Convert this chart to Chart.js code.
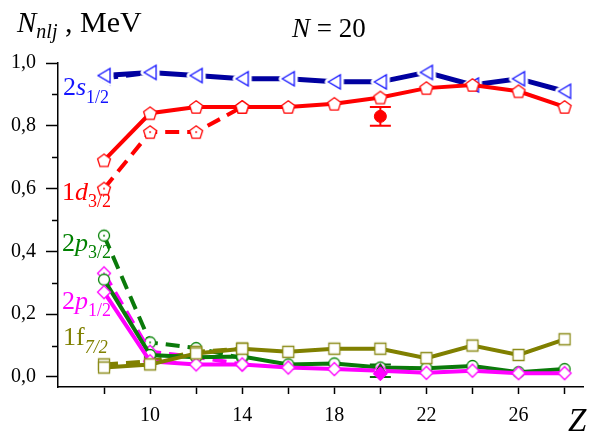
<!DOCTYPE html>
<html>
<head>
<meta charset="utf-8">
<script src="https://cdn.jsdelivr.net/npm/chart.js@4.4.1/dist/chart.umd.min.js"></script>
<style>
  html, body { margin: 0; padding: 0; background: #fff; }
</style>
</head>
<body>
<canvas id="occupancy" width="598" height="434"></canvas>
<script>
const zValues = [8, 10, 12, 14, 16, 18, 20, 22, 24, 26, 28];
const zShort = [8, 10, 12, 14];
const zTicks = [8, 10, 12, 14, 16, 18, 20, 22, 24, 26, 28];
const zLabels = [10, 14, 18, 22, 26];
const yTicks = [0, 0.2, 0.4, 0.6, 0.8, 1.0];
const yMinor = [0.1, 0.3, 0.5, 0.7, 0.9];

// solid curves
const s12 = [0.96, 0.97, 0.96, 0.95, 0.95, 0.94, 0.94, 0.97, 0.93, 0.95, 0.91];
const d32 = [0.69, 0.84, 0.86, 0.86, 0.86, 0.87, 0.89, 0.92, 0.93, 0.91, 0.86];
const p32 = [0.31, 0.07, 0.063, 0.065, 0.04, 0.043, 0.03, 0.028, 0.035, 0.015, 0.025];
const p12 = [0.27, 0.05, 0.04, 0.04, 0.03, 0.025, 0.02, 0.013, 0.02, 0.012, 0.012];
const f72 = [0.03, 0.04, 0.075, 0.09, 0.08, 0.09, 0.09, 0.06, 0.10, 0.07, 0.12];

// dashed curves (light nuclei, join the solid ones by Z = 14)
const s12Alt = [0.953, 0.97];
const d32Alt = [0.60, 0.78, 0.78, 0.86];
const p32Alt = [0.45, 0.11, 0.092, 0.06];
const p12Alt = [0.33, 0.08, 0.064, 0.04];
const f72Alt = [0.04, 0.05, 0.08, 0.09];

// experiment at Z = 20
const expZ = 20;
const expD32 = [0.83];
const expD32Err = [0.03];
const expP32 = [0.02];
const expP32Err = [0.02];
const expP12 = [0.01];

const BLUE = '#1414ff', NAVY = '#0000a0', RED = '#ff0000', GREEN = '#008000',
      MAGENTA = '#ff00ff', OLIVE = '#808000';
const SERIF = "'Liberation Serif', 'Times New Roman', serif";

function pts(xs, ys) {
  return ys.map((y, i) => ({ x: xs[i], y: y }));
}

// open markers drawn once into small canvases; halo leaves a gap in the line
function marker(shape, color, dot, halo) {
  const c = document.createElement('canvas');
  c.width = 26; c.height = 26;
  const g = c.getContext('2d');
  g.translate(13, 13);
  g.beginPath();
  if (shape === 'tri') {
    g.moveTo(-6, 0); g.lineTo(6, -7); g.lineTo(6, 7); g.closePath();
  } else if (shape === 'penta') {
    for (let k = 0; k < 5; k++) {
      const a = -Math.PI / 2 + k * 2 * Math.PI / 5;
      const px = Math.cos(a) * 6.8, py = Math.sin(a) * 6.8 + 0.6;
      k ? g.lineTo(px, py) : g.moveTo(px, py);
    }
    g.closePath();
  } else if (shape === 'circle') {
    g.arc(0, 0, 5.5, 0, Math.PI * 2);
  } else if (shape === 'diamond') {
    g.moveTo(0, -6.5); g.lineTo(6.5, 0); g.lineTo(0, 6.5); g.lineTo(-6.5, 0); g.closePath();
  } else {
    g.rect(-5.5, -5.5, 11, 11);
  }
  if (halo) {
    g.lineWidth = 7;
    g.lineJoin = 'round';
    g.strokeStyle = '#fff';
    g.stroke();
  }
  g.fillStyle = '#fff';
  g.fill();
  g.lineWidth = 1.3;
  g.lineJoin = 'miter';
  g.strokeStyle = color;
  g.stroke();
  if (dot) {
    g.beginPath();
    g.arc(0, 0, 0.9, 0, Math.PI * 2);
    g.fillStyle = color;
    g.fill();
  }
  return c;
}

function curve(xs, ys, lineColor, style, dashed, width) {
  return {
    data: pts(xs, ys),
    borderColor: lineColor,
    borderWidth: width || 4,
    borderDash: dashed ? [14, 8] : [],
    pointStyle: style,
    pointRadius: 7,
    pointHoverRadius: 7,
    fill: false,
    tension: 0
  };
}

function expPoint(ys, errs, color, style, radius) {
  return {
    data: pts([expZ], ys),
    yErr: errs,
    showLine: false,
    pointStyle: style,
    pointRadius: radius,
    pointBackgroundColor: color,
    pointBorderColor: color,
    borderColor: color
  };
}

const datasets = [
  expPoint(expP12, [0], MAGENTA, 'rectRot', 7),
  expPoint(expP32, expP32Err, '#0a6a0a', 'triangle', 7),
  expPoint(expD32, expD32Err, RED, 'circle', 6),
  curve(zValues, d32, RED, marker('penta', RED, false), false),
  curve(zValues, s12, NAVY, marker('tri', BLUE, false, true), false, 5),
  curve(zValues, f72, OLIVE, marker('rect', '#8c8c1a', false), false),
  curve(zValues, p12, MAGENTA, marker('diamond', MAGENTA, false), false),
  curve(zValues, p32, '#0a7a0a', marker('circle', GREEN, false), false),
  curve(zShort.slice(0, 2), s12Alt, NAVY, marker('tri', BLUE, true, true), true, 5),
  curve(zShort, d32Alt, RED, marker('penta', RED, true), true),
  curve(zShort, f72Alt, OLIVE, marker('rect', '#8c8c1a', true), true),
  curve(zShort, p12Alt, MAGENTA, marker('diamond', MAGENTA, true), true),
  curve(zShort, p32Alt, '#0a7a0a', marker('circle', GREEN, true), true)
];

// vertical error bars with caps
const errorBars = {
  id: 'errorBars',
  beforeDatasetsDraw(chart) {
    const { ctx, scales: { x, y } } = chart;
    chart.data.datasets.forEach(ds => {
      if (!ds.yErr) return;
      ds.data.forEach((p, i) => {
        const e = ds.yErr[i];
        if (!e) return;
        const px = x.getPixelForValue(p.x);
        const top = y.getPixelForValue(p.y + e), bot = y.getPixelForValue(p.y - e);
        ctx.save();
        ctx.strokeStyle = ds.borderColor;
        ctx.lineWidth = 2;
        ctx.beginPath();
        ctx.moveTo(px, top); ctx.lineTo(px, bot);
        ctx.moveTo(px - 10.5, top); ctx.lineTo(px + 10.5, top);
        ctx.moveTo(px - 10.5, bot); ctx.lineTo(px + 10.5, bot);
        ctx.stroke();
        ctx.restore();
      });
    });
  }
};

function rich(ctx, x, y, parts) {
  parts.forEach(p => {
    ctx.font = (p.italic ? 'italic ' : '') + p.size + 'px ' + SERIF;
    ctx.fillStyle = p.color || '#000';
    ctx.fillText(p.text, x, y + (p.dy || 0));
    x += ctx.measureText(p.text).width;
  });
}

// axis titles, level labels and minor y ticks
const annotations = {
  id: 'annotations',
  afterDraw(chart) {
    const { ctx, scales: { y }, chartArea } = chart;
    ctx.save();
    ctx.strokeStyle = '#000';
    ctx.lineWidth = 1.5;
    ctx.beginPath();
    yMinor.forEach(v => {
      const py = Math.round(y.getPixelForValue(v)) + 0.5;
      ctx.moveTo(chartArea.left - 6, py);
      ctx.lineTo(chartArea.left, py);
    });
    ctx.stroke();

    ctx.textBaseline = 'alphabetic';
    rich(ctx, 17, 32, [
      { text: 'N', italic: true, size: 29 },
      { text: 'nlj', italic: true, size: 20, dy: 6 },
      { text: ' , MeV', size: 30 }
    ]);
    rich(ctx, 292, 37, [
      { text: 'N', italic: true, size: 27 },
      { text: ' = 20', size: 27 }
    ]);
    rich(ctx, 568, 431, [{ text: 'Z', italic: true, size: 33 }]);

    rich(ctx, 63, 95, [
      { text: '2', size: 26, color: BLUE },
      { text: 's', italic: true, size: 26, color: BLUE },
      { text: '1/2', size: 18, dy: 8, color: BLUE }
    ]);
    rich(ctx, 62, 200, [
      { text: '1', size: 26, color: RED },
      { text: 'd', italic: true, size: 26, color: RED },
      { text: '3/2', size: 18, dy: 7, color: RED }
    ]);
    rich(ctx, 62, 251, [
      { text: '2', size: 26, color: GREEN },
      { text: 'p', italic: true, size: 26, color: GREEN },
      { text: '3/2', size: 18, dy: 7, color: GREEN }
    ]);
    rich(ctx, 62, 309, [
      { text: '2', size: 26, color: MAGENTA },
      { text: 'p', italic: true, size: 26, color: MAGENTA },
      { text: '1/2', size: 18, dy: 7, color: MAGENTA }
    ]);
    rich(ctx, 63, 345, [
      { text: '1f', size: 26, color: OLIVE },
      { text: '7/2', italic: true, size: 18, dy: 8, color: OLIVE }
    ]);
    ctx.restore();
  }
};

new Chart(document.getElementById('occupancy'), {
  type: 'line',
  data: { datasets: datasets },
  options: {
    responsive: false,
    animation: false,
    events: [],
    layout: { padding: { left: 0, top: 63, right: 15, bottom: 0 } },
    plugins: { legend: { display: false }, tooltip: { enabled: false } },
    scales: {
      x: {
        type: 'linear',
        min: 6,
        max: 28.8,
        afterFit: s => { s.height = 47; },
        afterBuildTicks: s => { s.ticks = zTicks.map(v => ({ value: v })); },
        ticks: {
          padding: 10,
          color: '#000',
          font: { family: SERIF, size: 20 },
          maxRotation: 0,
          autoSkip: false,
          callback: v => (zLabels.includes(v) ? String(v) : '')
        },
        grid: { drawOnChartArea: false, drawTicks: true, tickLength: 7, tickColor: '#000', tickWidth: 1.5 },
        border: { display: true, color: '#000', width: 1.5 }
      },
      y: {
        min: -0.032,
        max: 1.0,
        afterFit: s => { s.width = 58; },
        afterBuildTicks: s => { s.ticks = yTicks.map(v => ({ value: v })); },
        ticks: {
          padding: 10,
          color: '#000',
          font: { family: SERIF, size: 20 },
          callback: v => v.toFixed(1).replace('.', ',')
        },
        grid: { drawOnChartArea: false, drawTicks: true, tickLength: 12, tickColor: '#000', tickWidth: 1.5 },
        border: { display: true, color: '#000', width: 1.5 }
      }
    }
  },
  plugins: [errorBars, annotations]
});
</script>
</body>
</html>
